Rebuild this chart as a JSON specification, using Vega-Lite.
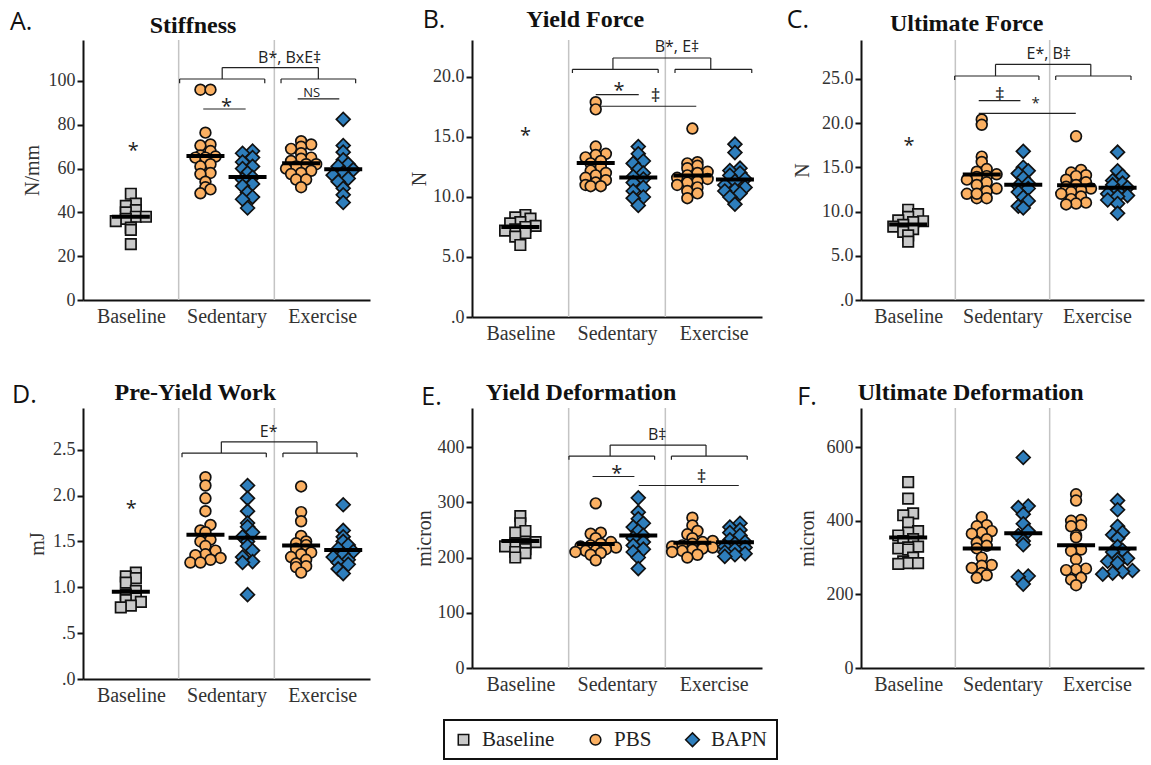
{
"$schema":"https://vega.github.io/schema/vega-lite/v6.json",
"background":"white",
"padding":{"left":10,"top":8,"right":5,"bottom":2},
"datasets":{
"sep":[{"x":1},{"x":2}],
"pts":[
{"p":"A","g":"B","t":"Baseline","v":[48.5,44,43,41,40,38,38,37,36,33,32,25.5]},
{"p":"A","g":"S","t":"PBS","v":[96,96,76.4,71,70.5,68,66,65.5,65,65,62,61,58,57.5,54,51.5,50.5,48.7]},
{"p":"A","g":"S","t":"BAPN","v":[68,67,65,63,61,60,58,56,55,53,52,49,47,46,42]},
{"p":"A","g":"E","t":"PBS","v":[72.5,71,70,69,67,65,64.5,63.5,62,62,61,60,59,58,57.5,55,55,51.5]},
{"p":"A","g":"E","t":"BAPN","v":[82.5,70.5,67.5,64,62,61,59.5,58,57,55.5,54,51,48,44.5]},
{"p":"B","g":"B","t":"Baseline","v":[8.5,8.3,8.2,7.9,7.8,7.6,7.5,7.3,7.2,7.0,6.7,6.0]},
{"p":"B","g":"S","t":"PBS","v":[17.9,17.3,14.2,13.6,13.5,13.3,13.0,12.8,12.5,12.2,12.0,11.8,11.6,11.4,11.2,11.0,10.9,10.9]},
{"p":"B","g":"S","t":"BAPN","v":[14.2,13.6,13.0,12.8,12.3,12.0,11.7,11.5,11.2,10.8,10.5,10.0,9.9,9.3]},
{"p":"B","g":"E","t":"PBS","v":[15.7,12.9,12.8,12.6,12.4,12.1,12.0,11.8,11.6,11.5,11.3,11.2,11.0,10.8,10.5,10.3,9.9]},
{"p":"B","g":"E","t":"BAPN","v":[14.4,13.7,12.4,12.2,12.0,11.8,11.5,11.3,11.0,10.8,10.6,10.5,10.3,10.0,9.4]},
{"p":"C","g":"B","t":"Baseline","v":[10.2,9.7,9.4,9.0,8.9,8.8,8.5,8.3,8.0,7.7,7.3,6.6]},
{"p":"C","g":"S","t":"PBS","v":[20.4,19.8,16.2,15.6,14.8,14.5,14.0,14.2,13.9,13.6,13.3,13.0,12.6,12.3,12.0,11.5,12.0,11.5]},
{"p":"C","g":"S","t":"BAPN","v":[16.8,15.0,14.6,14.3,13.8,13.2,12.9,12.6,12.2,11.6,11.2,10.6,10.4]},
{"p":"C","g":"E","t":"PBS","v":[18.5,14.7,14.4,14.1,14.0,13.6,13.3,13.0,12.8,12.6,12.4,12.2,12.0,11.7,11.4,11.0,10.9,10.8]},
{"p":"C","g":"E","t":"BAPN","v":[16.7,14.6,14.0,13.5,13.2,13.0,12.7,12.3,12.0,11.8,11.7,11.3,10.9,9.8]},
{"p":"D","g":"B","t":"Baseline","v":[1.16,1.12,1.10,1.05,0.96,0.92,0.88,0.86,0.84,0.80,0.78]},
{"p":"D","g":"S","t":"PBS","v":[2.20,2.11,1.97,1.83,1.68,1.62,1.60,1.52,1.50,1.45,1.40,1.36,1.35,1.32,1.30,1.27,1.27]},
{"p":"D","g":"S","t":"BAPN","v":[2.11,1.97,1.83,1.70,1.66,1.60,1.55,1.50,1.45,1.40,1.33,1.28,1.27,0.92]},
{"p":"D","g":"E","t":"PBS","v":[2.10,1.82,1.72,1.56,1.50,1.48,1.46,1.42,1.38,1.36,1.33,1.30,1.26,1.23,1.22,1.16]},
{"p":"D","g":"E","t":"BAPN","v":[1.90,1.62,1.55,1.50,1.46,1.42,1.39,1.36,1.33,1.30,1.27,1.25,1.20,1.15]},
{"p":"E","g":"B","t":"Baseline","v":[275,262,248,245,228,225,225,220,215,210,208,200]},
{"p":"E","g":"S","t":"PBS","v":[298,245,243,235,228,225,222,220,218,215,213,212,210,208,205,195]},
{"p":"E","g":"S","t":"BAPN","v":[308,282,270,262,255,248,240,235,228,222,215,210,200,180]},
{"p":"E","g":"E","t":"PBS","v":[272,258,248,242,235,230,228,225,222,220,218,216,214,212,210,205,200]},
{"p":"E","g":"E","t":"BAPN","v":[262,255,250,245,240,232,228,225,220,218,215,210,207,205,202]},
{"p":"F","g":"B","t":"Baseline","v":[505,460,420,415,395,372,368,360,350,345,330,328,325,322,300,290,285,285,283]},
{"p":"F","g":"S","t":"PBS","v":[410,388,385,372,368,365,350,340,332,325,300,280,278,272,258,252,245]},
{"p":"F","g":"S","t":"BAPN","v":[572,440,436,418,392,372,360,345,335,250,248,228]},
{"p":"F","g":"E","t":"PBS","v":[472,455,402,400,388,385,360,355,322,318,295,270,268,266,245,240,225]},
{"p":"F","g":"E","t":"BAPN","v":[455,430,385,368,362,352,330,320,315,298,295,290,285,265,262,258,255]}
],
"seg":[
{"p":"A","x":1.01,"x2":1.9,"y":100.9,"y2":100.9},{"p":"A","x":1.01,"x2":1.01,"y":99.0,"y2":100.9},{"p":"A","x":1.9,"x2":1.9,"y":99.0,"y2":100.9},
{"p":"A","x":2.07,"x2":2.85,"y":100.9,"y2":100.9},{"p":"A","x":2.07,"x2":2.07,"y":99.0,"y2":100.9},{"p":"A","x":2.85,"x2":2.85,"y":99.0,"y2":100.9},
{"p":"A","x":1.455,"x2":1.455,"y":100.9,"y2":106.1},{"p":"A","x":2.46,"x2":2.46,"y":100.9,"y2":106.1},{"p":"A","x":1.455,"x2":2.46,"y":106.1,"y2":106.1},
{"p":"A","x":1.257,"x2":1.7,"y":87.2,"y2":87.2},{"p":"A","x":2.244,"x2":2.679,"y":91.8,"y2":91.8},
{"p":"B","x":1.039,"x2":1.926,"y":20.64,"y2":20.64},{"p":"B","x":1.039,"x2":1.039,"y":20.33,"y2":20.64},{"p":"B","x":1.926,"x2":1.926,"y":20.33,"y2":20.64},
{"p":"B","x":2.1,"x2":2.894,"y":20.64,"y2":20.64},{"p":"B","x":2.1,"x2":2.1,"y":20.33,"y2":20.64},{"p":"B","x":2.894,"x2":2.894,"y":20.33,"y2":20.64},
{"p":"B","x":1.458,"x2":1.458,"y":20.64,"y2":21.58},{"p":"B","x":2.47,"x2":2.47,"y":20.64,"y2":21.58},{"p":"B","x":1.458,"x2":2.47,"y":21.58,"y2":21.58},
{"p":"B","x":1.28,"x2":1.725,"y":18.53,"y2":18.53},{"p":"B","x":1.28,"x2":2.32,"y":17.56,"y2":17.56},
{"p":"C","x":0.993,"x2":1.886,"y":25.31,"y2":25.31},{"p":"C","x":0.993,"x2":0.993,"y":24.86,"y2":25.31},{"p":"C","x":1.886,"x2":1.886,"y":24.86,"y2":25.31},
{"p":"C","x":2.064,"x2":2.862,"y":25.31,"y2":25.31},{"p":"C","x":2.064,"x2":2.064,"y":24.86,"y2":25.31},{"p":"C","x":2.862,"x2":2.862,"y":24.86,"y2":25.31},
{"p":"C","x":1.426,"x2":1.426,"y":25.31,"y2":26.63},{"p":"C","x":2.436,"x2":2.436,"y":25.31,"y2":26.63},{"p":"C","x":1.426,"x2":2.436,"y":26.63,"y2":26.63},
{"p":"C","x":1.248,"x2":1.69,"y":22.52,"y2":22.52},{"p":"C","x":1.248,"x2":2.277,"y":21.09,"y2":21.09},
{"p":"D","x":1.035,"x2":1.916,"y":2.463,"y2":2.463},{"p":"D","x":1.035,"x2":1.035,"y":2.419,"y2":2.463},{"p":"D","x":1.916,"x2":1.916,"y":2.419,"y2":2.463},
{"p":"D","x":2.09,"x2":2.864,"y":2.463,"y2":2.463},{"p":"D","x":2.09,"x2":2.09,"y":2.419,"y2":2.463},{"p":"D","x":2.864,"x2":2.864,"y":2.419,"y2":2.463},
{"p":"D","x":1.446,"x2":1.446,"y":2.463,"y2":2.586},{"p":"D","x":2.446,"x2":2.446,"y":2.463,"y2":2.586},{"p":"D","x":1.446,"x2":2.446,"y":2.586,"y2":2.586},
{"p":"E","x":1.003,"x2":1.889,"y":383.5,"y2":383.5},{"p":"E","x":1.003,"x2":1.003,"y":376.9,"y2":383.5},{"p":"E","x":1.889,"x2":1.889,"y":376.9,"y2":383.5},
{"p":"E","x":2.063,"x2":2.847,"y":383.5,"y2":383.5},{"p":"E","x":2.063,"x2":2.063,"y":376.9,"y2":383.5},{"p":"E","x":2.847,"x2":2.847,"y":376.9,"y2":383.5},
{"p":"E","x":1.429,"x2":1.429,"y":383.5,"y2":403.5},{"p":"E","x":2.421,"x2":2.421,"y":383.5,"y2":403.5},{"p":"E","x":1.429,"x2":2.421,"y":403.5,"y2":403.5},
{"p":"E","x":1.247,"x2":1.68,"y":346.6,"y2":346.6},{"p":"E","x":1.725,"x2":2.76,"y":330.3,"y2":330.3}
],
"txt":[
{"p":"A","k":"letter","x":-0.763,"y":123.3,"s":"A."},{"p":"A","k":"title","x":1.15,"y":122.1,"s":"Stiffness"},
{"p":"A","k":"stat","x":2.16,"y":108.1,"s":"B*, BxE‡"},{"p":"A","k":"star","x":1.5,"y":85.5,"s":"*"},{"p":"A","k":"ns","x":2.39,"y":92.5,"s":"NS"},{"p":"A","k":"star","x":0.526,"y":65.4,"s":"*"},
{"p":"B","k":"letter","x":-0.51,"y":24.06,"s":"B."},{"p":"B","k":"title","x":1.171,"y":24.14,"s":"Yield Force"},
{"p":"B","k":"stat","x":2.12,"y":22.06,"s":"B*, E‡"},{"p":"B","k":"star","x":1.521,"y":18.36,"s":"*"},{"p":"B","k":"dag","x":1.9,"y":17.93,"s":"‡"},{"p":"B","k":"star","x":0.553,"y":14.61,"s":"*"},
{"p":"C","k":"letter","x":-0.788,"y":30.7,"s":"C."},{"p":"C","k":"title","x":1.12,"y":30.43,"s":"Ultimate Force"},
{"p":"C","k":"stat","x":1.99,"y":27.2,"s":"E*, B‡"},{"p":"C","k":"dag","x":1.471,"y":22.53,"s":"‡"},{"p":"C","k":"sstar","x":1.851,"y":21.75,"s":"*"},{"p":"C","k":"star","x":0.51,"y":16.76,"s":"*"},
{"p":"D","k":"letter","x":-0.742,"y":3.007,"s":"D."},{"p":"D","k":"title","x":1.174,"y":3.043,"s":"Pre-Yield Work"},
{"p":"D","k":"stat","x":1.94,"y":2.642,"s":"E*"},{"p":"D","k":"star","x":0.505,"y":1.788,"s":"*"},
{"p":"E","k":"letter","x":-0.524,"y":476,"s":"E."},{"p":"E","k":"title","x":1.128,"y":485,"s":"Yield Deformation"},
{"p":"E","k":"stat","x":1.916,"y":412.7,"s":"B‡"},{"p":"E","k":"star","x":1.498,"y":340.3,"s":"*"},{"p":"E","k":"dag","x":2.376,"y":335.2,"s":"‡"},
{"p":"F","k":"letter","x":-0.675,"y":714.7,"s":"F."},{"p":"F","k":"title","x":1.163,"y":728.3,"s":"Ultimate Deformation"}
]
},
"concat":[
{"width":287,"height":260,"layer":[
{"data":{"name":"sep"},"mark":{"type":"rule","color":"#c4c4c4","strokeWidth":1.5},"encoding":{"x":{"field":"x","type":"quantitative","scale":{"domain":[0,3],"nice":false}}}},
{"data":{"name":"seg"},"transform":[{"filter":"datum.p=='A'"}],"mark":{"type":"rule","color":"#222","strokeWidth":1.2},"encoding":{"x":{"field":"x","type":"quantitative","scale":{"domain":[0,3],"nice":false}},"x2":{"field":"x2"},"y":{"field":"y","type":"quantitative","scale":{"domain":[0,118.7],"nice":false}},"y2":{"field":"y2"}}},
{"data":{"name":"pts"},"transform":[{"filter":"datum.p=='A'"},{"flatten":["v"],"as":["y"]},{"calculate":"floor(datum.y/3)","as":"bn"},{"window":[{"op":"row_number","as":"rk"},{"op":"count","as":"cnt"}],"groupby":["g","t","bn"],"sort":[{"field":"y","order":"ascending"}],"frame":[null,null]},{"calculate":"(datum.g=='B'?0.5:datum.g=='S'?1.5:2.5)+(datum.t=='PBS'?-0.22:datum.t=='BAPN'?0.22:0)+(datum.rk-(datum.cnt+1)/2)*0.105","as":"x"}],
 "mark":{"type":"point","filled":true,"opacity":1,"stroke":"#111","strokeWidth":1.7},
 "encoding":{"x":{"field":"x","type":"quantitative","scale":{"domain":[0,3],"nice":false},"axis":{"values":[0.5,1.5,2.5],"labelExpr":"datum.value==0.5?'Baseline':datum.value==1.5?'Sedentary':'Exercise'","title":null,"labelOverlap":false,"labelFont":"Liberation Serif"}},
 "y":{"field":"y","type":"quantitative","scale":{"domain":[0,118.7],"nice":false},"axis":{"values":[0,20,40,60,80,100],"title":"N/mm","titleX":-51,"titleBaseline":"middle","labelFont":"Liberation Serif","titleFont":"Liberation Serif"}},
 "color":{"field":"t","type":"nominal","scale":{"domain":["Baseline","PBS","BAPN"],"range":["#c9c9c9","#fbb062","#2e7ebc"]},"legend":null},
 "shape":{"field":"t","type":"nominal","scale":{"domain":["Baseline","PBS","BAPN"],"range":["square","circle","diamond"]},"legend":null},
 "size":{"field":"t","type":"nominal","scale":{"type":"ordinal","domain":["Baseline","PBS","BAPN"],"range":[110,115,190]},"legend":null}}},
{"data":{"name":"pts"},"transform":[{"filter":"datum.p=='A'"},{"flatten":["v"],"as":["y"]},{"aggregate":[{"op":"mean","field":"y","as":"m"}],"groupby":["g","t"]},{"calculate":"(datum.g=='B'?0.5:datum.g=='S'?1.5:2.5)+(datum.t=='PBS'?-0.22:datum.t=='BAPN'?0.22:0)","as":"x"}],
 "mark":{"type":"tick","orient":"horizontal","color":"#000","thickness":4,"size":38,"opacity":1},
 "encoding":{"x":{"field":"x","type":"quantitative","scale":{"domain":[0,3],"nice":false}},"y":{"field":"m","type":"quantitative","scale":{"domain":[0,118.7],"nice":false}}}},
{"data":{"name":"txt"},"transform":[{"filter":"datum.p=='A' && datum.k=='letter'"}],"mark":{"type":"text","font":"Open Sans","fontSize":25,"align":"left","baseline":"alphabetic","color":"#111"},"encoding":{"x":{"field":"x","type":"quantitative","scale":{"domain":[0,3],"nice":false}},"y":{"field":"y","type":"quantitative","scale":{"domain":[0,118.7],"nice":false}},"text":{"field":"s"}}},
{"data":{"name":"txt"},"transform":[{"filter":"datum.p=='A' && datum.k=='title'"}],"mark":{"type":"text","font":"Liberation Serif","fontWeight":"bold","fontSize":24,"align":"center","baseline":"alphabetic","color":"#111"},"encoding":{"x":{"field":"x","type":"quantitative","scale":{"domain":[0,3],"nice":false}},"y":{"field":"y","type":"quantitative","scale":{"domain":[0,118.7],"nice":false}},"text":{"field":"s"}}},
{"data":{"name":"txt"},"transform":[{"filter":"datum.p=='A' && datum.k=='stat'"}],"mark":{"type":"text","font":"Open Sans","fontSize":16,"align":"center","baseline":"alphabetic","color":"#222"},"encoding":{"x":{"field":"x","type":"quantitative","scale":{"domain":[0,3],"nice":false}},"y":{"field":"y","type":"quantitative","scale":{"domain":[0,118.7],"nice":false}},"text":{"field":"s"}}},
{"data":{"name":"txt"},"transform":[{"filter":"datum.p=='A' && datum.k=='ns'"}],"mark":{"type":"text","font":"Open Sans","fontSize":13,"align":"center","baseline":"alphabetic","color":"#222"},"encoding":{"x":{"field":"x","type":"quantitative","scale":{"domain":[0,3],"nice":false}},"y":{"field":"y","type":"quantitative","scale":{"domain":[0,118.7],"nice":false}},"text":{"field":"s"}}},
{"data":{"name":"txt"},"transform":[{"filter":"datum.p=='A' && datum.k=='star'"}],"mark":{"type":"text","font":"Open Sans","fontSize":20,"align":"center","baseline":"alphabetic","color":"#222"},"encoding":{"x":{"field":"x","type":"quantitative","scale":{"domain":[0,3],"nice":false}},"y":{"field":"y","type":"quantitative","scale":{"domain":[0,118.7],"nice":false}},"text":{"field":"s"}}}
]},
{"width":290,"height":277,"layer":[
{"data":{"name":"sep"},"mark":{"type":"rule","color":"#c4c4c4","strokeWidth":1.5},"encoding":{"x":{"field":"x","type":"quantitative","scale":{"domain":[0,3],"nice":false}}}},
{"data":{"name":"seg"},"transform":[{"filter":"datum.p=='B'"}],"mark":{"type":"rule","color":"#222","strokeWidth":1.2},"encoding":{"x":{"field":"x","type":"quantitative","scale":{"domain":[0,3],"nice":false}},"x2":{"field":"x2"},"y":{"field":"y","type":"quantitative","scale":{"domain":[0,23.08],"nice":false}},"y2":{"field":"y2"}}},
{"data":{"name":"pts"},"transform":[{"filter":"datum.p=='B'"},{"flatten":["v"],"as":["y"]},{"calculate":"floor(datum.y/0.55)","as":"bn"},{"window":[{"op":"row_number","as":"rk"},{"op":"count","as":"cnt"}],"groupby":["g","t","bn"],"sort":[{"field":"y","order":"ascending"}],"frame":[null,null]},{"calculate":"(datum.g=='B'?0.5:datum.g=='S'?1.5:2.5)+(datum.t=='PBS'?-0.22:datum.t=='BAPN'?0.22:0)+(datum.rk-(datum.cnt+1)/2)*0.105","as":"x"}],
 "mark":{"type":"point","filled":true,"opacity":1,"stroke":"#111","strokeWidth":1.7},
 "encoding":{"x":{"field":"x","type":"quantitative","scale":{"domain":[0,3],"nice":false},"axis":{"values":[0.5,1.5,2.5],"labelExpr":"datum.value==0.5?'Baseline':datum.value==1.5?'Sedentary':'Exercise'","title":null,"labelOverlap":false,"labelFont":"Liberation Serif"}},
 "y":{"field":"y","type":"quantitative","scale":{"domain":[0,23.08],"nice":false},"axis":{"values":[0,5,10,15,20],"labelExpr":"datum.value==0?'.0':format(datum.value,'.1f')","title":"N","titleX":-53,"titleBaseline":"middle","labelFont":"Liberation Serif","titleFont":"Liberation Serif"}},
 "color":{"field":"t","type":"nominal","scale":{"domain":["Baseline","PBS","BAPN"],"range":["#c9c9c9","#fbb062","#2e7ebc"]},"legend":null},
 "shape":{"field":"t","type":"nominal","scale":{"domain":["Baseline","PBS","BAPN"],"range":["square","circle","diamond"]},"legend":null},
 "size":{"field":"t","type":"nominal","scale":{"type":"ordinal","domain":["Baseline","PBS","BAPN"],"range":[110,115,190]},"legend":null}}},
{"data":{"name":"pts"},"transform":[{"filter":"datum.p=='B'"},{"flatten":["v"],"as":["y"]},{"aggregate":[{"op":"mean","field":"y","as":"m"}],"groupby":["g","t"]},{"calculate":"(datum.g=='B'?0.5:datum.g=='S'?1.5:2.5)+(datum.t=='PBS'?-0.22:datum.t=='BAPN'?0.22:0)","as":"x"}],
 "mark":{"type":"tick","orient":"horizontal","color":"#000","thickness":4,"size":38,"opacity":1},
 "encoding":{"x":{"field":"x","type":"quantitative","scale":{"domain":[0,3],"nice":false}},"y":{"field":"m","type":"quantitative","scale":{"domain":[0,23.08],"nice":false}}}},
{"data":{"name":"txt"},"transform":[{"filter":"datum.p=='B' && datum.k=='letter'"}],"mark":{"type":"text","font":"Open Sans","fontSize":25,"align":"left","baseline":"alphabetic","color":"#111"},"encoding":{"x":{"field":"x","type":"quantitative","scale":{"domain":[0,3],"nice":false}},"y":{"field":"y","type":"quantitative","scale":{"domain":[0,23.08],"nice":false}},"text":{"field":"s"}}},
{"data":{"name":"txt"},"transform":[{"filter":"datum.p=='B' && datum.k=='title'"}],"mark":{"type":"text","font":"Liberation Serif","fontWeight":"bold","fontSize":24,"align":"center","baseline":"alphabetic","color":"#111"},"encoding":{"x":{"field":"x","type":"quantitative","scale":{"domain":[0,3],"nice":false}},"y":{"field":"y","type":"quantitative","scale":{"domain":[0,23.08],"nice":false}},"text":{"field":"s"}}},
{"data":{"name":"txt"},"transform":[{"filter":"datum.p=='B' && datum.k=='stat'"}],"mark":{"type":"text","font":"Open Sans","fontSize":16,"align":"center","baseline":"alphabetic","color":"#222"},"encoding":{"x":{"field":"x","type":"quantitative","scale":{"domain":[0,3],"nice":false}},"y":{"field":"y","type":"quantitative","scale":{"domain":[0,23.08],"nice":false}},"text":{"field":"s"}}},
{"data":{"name":"txt"},"transform":[{"filter":"datum.p=='B' && datum.k=='star'"}],"mark":{"type":"text","font":"Open Sans","fontSize":20,"align":"center","baseline":"alphabetic","color":"#222"},"encoding":{"x":{"field":"x","type":"quantitative","scale":{"domain":[0,3],"nice":false}},"y":{"field":"y","type":"quantitative","scale":{"domain":[0,23.08],"nice":false}},"text":{"field":"s"}}},
{"data":{"name":"txt"},"transform":[{"filter":"datum.p=='B' && datum.k=='dag'"}],"mark":{"type":"text","font":"Open Sans","fontSize":19,"align":"center","baseline":"alphabetic","color":"#222"},"encoding":{"x":{"field":"x","type":"quantitative","scale":{"domain":[0,3],"nice":false}},"y":{"field":"y","type":"quantitative","scale":{"domain":[0,23.08],"nice":false}},"text":{"field":"s"}}}
]},
{"width":283,"height":260,"layer":[
{"data":{"name":"sep"},"mark":{"type":"rule","color":"#c4c4c4","strokeWidth":1.5},"encoding":{"x":{"field":"x","type":"quantitative","scale":{"domain":[0,3],"nice":false}}}},
{"data":{"name":"seg"},"transform":[{"filter":"datum.p=='C'"}],"mark":{"type":"rule","color":"#222","strokeWidth":1.2},"encoding":{"x":{"field":"x","type":"quantitative","scale":{"domain":[0,3],"nice":false}},"x2":{"field":"x2"},"y":{"field":"y","type":"quantitative","scale":{"domain":[0,29.38],"nice":false}},"y2":{"field":"y2"}}},
{"data":{"name":"pts"},"transform":[{"filter":"datum.p=='C'"},{"flatten":["v"],"as":["y"]},{"calculate":"floor(datum.y/0.75)","as":"bn"},{"window":[{"op":"row_number","as":"rk"},{"op":"count","as":"cnt"}],"groupby":["g","t","bn"],"sort":[{"field":"y","order":"ascending"}],"frame":[null,null]},{"calculate":"(datum.g=='B'?0.5:datum.g=='S'?1.5:2.5)+(datum.t=='PBS'?-0.22:datum.t=='BAPN'?0.22:0)+(datum.rk-(datum.cnt+1)/2)*0.105","as":"x"}],
 "mark":{"type":"point","filled":true,"opacity":1,"stroke":"#111","strokeWidth":1.7},
 "encoding":{"x":{"field":"x","type":"quantitative","scale":{"domain":[0,3],"nice":false},"axis":{"values":[0.5,1.5,2.5],"labelExpr":"datum.value==0.5?'Baseline':datum.value==1.5?'Sedentary':'Exercise'","title":null,"labelOverlap":false,"labelFont":"Liberation Serif"}},
 "y":{"field":"y","type":"quantitative","scale":{"domain":[0,29.38],"nice":false},"axis":{"values":[0,5,10,15,20,25],"labelExpr":"datum.value==0?'.0':format(datum.value,'.1f')","title":"N","titleX":-59,"titleBaseline":"middle","labelFont":"Liberation Serif","titleFont":"Liberation Serif"}},
 "color":{"field":"t","type":"nominal","scale":{"domain":["Baseline","PBS","BAPN"],"range":["#c9c9c9","#fbb062","#2e7ebc"]},"legend":null},
 "shape":{"field":"t","type":"nominal","scale":{"domain":["Baseline","PBS","BAPN"],"range":["square","circle","diamond"]},"legend":null},
 "size":{"field":"t","type":"nominal","scale":{"type":"ordinal","domain":["Baseline","PBS","BAPN"],"range":[110,115,190]},"legend":null}}},
{"data":{"name":"pts"},"transform":[{"filter":"datum.p=='C'"},{"flatten":["v"],"as":["y"]},{"aggregate":[{"op":"mean","field":"y","as":"m"}],"groupby":["g","t"]},{"calculate":"(datum.g=='B'?0.5:datum.g=='S'?1.5:2.5)+(datum.t=='PBS'?-0.22:datum.t=='BAPN'?0.22:0)","as":"x"}],
 "mark":{"type":"tick","orient":"horizontal","color":"#000","thickness":4,"size":38,"opacity":1},
 "encoding":{"x":{"field":"x","type":"quantitative","scale":{"domain":[0,3],"nice":false}},"y":{"field":"m","type":"quantitative","scale":{"domain":[0,29.38],"nice":false}}}},
{"data":{"name":"txt"},"transform":[{"filter":"datum.p=='C' && datum.k=='letter'"}],"mark":{"type":"text","font":"Open Sans","fontSize":25,"align":"left","baseline":"alphabetic","color":"#111"},"encoding":{"x":{"field":"x","type":"quantitative","scale":{"domain":[0,3],"nice":false}},"y":{"field":"y","type":"quantitative","scale":{"domain":[0,29.38],"nice":false}},"text":{"field":"s"}}},
{"data":{"name":"txt"},"transform":[{"filter":"datum.p=='C' && datum.k=='title'"}],"mark":{"type":"text","font":"Liberation Serif","fontWeight":"bold","fontSize":24,"align":"center","baseline":"alphabetic","color":"#111"},"encoding":{"x":{"field":"x","type":"quantitative","scale":{"domain":[0,3],"nice":false}},"y":{"field":"y","type":"quantitative","scale":{"domain":[0,29.38],"nice":false}},"text":{"field":"s"}}},
{"data":{"name":"txt"},"transform":[{"filter":"datum.p=='C' && datum.k=='stat'"}],"mark":{"type":"text","font":"Open Sans","fontSize":16,"align":"center","baseline":"alphabetic","color":"#222"},"encoding":{"x":{"field":"x","type":"quantitative","scale":{"domain":[0,3],"nice":false}},"y":{"field":"y","type":"quantitative","scale":{"domain":[0,29.38],"nice":false}},"text":{"field":"s"}}},
{"data":{"name":"txt"},"transform":[{"filter":"datum.p=='C' && datum.k=='star'"}],"mark":{"type":"text","font":"Open Sans","fontSize":20,"align":"center","baseline":"alphabetic","color":"#222"},"encoding":{"x":{"field":"x","type":"quantitative","scale":{"domain":[0,3],"nice":false}},"y":{"field":"y","type":"quantitative","scale":{"domain":[0,29.38],"nice":false}},"text":{"field":"s"}}},
{"data":{"name":"txt"},"transform":[{"filter":"datum.p=='C' && datum.k=='sstar'"}],"mark":{"type":"text","font":"Open Sans","fontSize":15,"align":"center","baseline":"alphabetic","color":"#222"},"encoding":{"x":{"field":"x","type":"quantitative","scale":{"domain":[0,3],"nice":false}},"y":{"field":"y","type":"quantitative","scale":{"domain":[0,29.38],"nice":false}},"text":{"field":"s"}}},
{"data":{"name":"txt"},"transform":[{"filter":"datum.p=='C' && datum.k=='dag'"}],"mark":{"type":"text","font":"Open Sans","fontSize":19,"align":"center","baseline":"alphabetic","color":"#222"},"encoding":{"x":{"field":"x","type":"quantitative","scale":{"domain":[0,3],"nice":false}},"y":{"field":"y","type":"quantitative","scale":{"domain":[0,29.38],"nice":false}},"text":{"field":"s"}}}
]},
{"width":287,"height":271,"layer":[
{"data":{"name":"sep"},"mark":{"type":"rule","color":"#c4c4c4","strokeWidth":1.5},"encoding":{"x":{"field":"x","type":"quantitative","scale":{"domain":[0,3],"nice":false}}}},
{"data":{"name":"seg"},"transform":[{"filter":"datum.p=='D'"}],"mark":{"type":"rule","color":"#222","strokeWidth":1.2},"encoding":{"x":{"field":"x","type":"quantitative","scale":{"domain":[0,3],"nice":false}},"x2":{"field":"x2"},"y":{"field":"y","type":"quantitative","scale":{"domain":[0,2.955],"nice":false}},"y2":{"field":"y2"}}},
{"data":{"name":"pts"},"transform":[{"filter":"datum.p=='D'"},{"flatten":["v"],"as":["y"]},{"calculate":"floor(datum.y/0.07)","as":"bn"},{"window":[{"op":"row_number","as":"rk"},{"op":"count","as":"cnt"}],"groupby":["g","t","bn"],"sort":[{"field":"y","order":"ascending"}],"frame":[null,null]},{"calculate":"(datum.g=='B'?0.5:datum.g=='S'?1.5:2.5)+(datum.t=='PBS'?-0.22:datum.t=='BAPN'?0.22:0)+(datum.rk-(datum.cnt+1)/2)*0.105","as":"x"}],
 "mark":{"type":"point","filled":true,"opacity":1,"stroke":"#111","strokeWidth":1.7},
 "encoding":{"x":{"field":"x","type":"quantitative","scale":{"domain":[0,3],"nice":false},"axis":{"values":[0.5,1.5,2.5],"labelExpr":"datum.value==0.5?'Baseline':datum.value==1.5?'Sedentary':'Exercise'","title":null,"labelOverlap":false,"labelFont":"Liberation Serif"}},
 "y":{"field":"y","type":"quantitative","scale":{"domain":[0,2.955],"nice":false},"axis":{"values":[0,0.5,1,1.5,2,2.5],"labelExpr":"datum.value==0?'.0':datum.value==0.5?'.5':format(datum.value,'.1f')","title":"mJ","titleX":-46,"titleBaseline":"middle","labelFont":"Liberation Serif","titleFont":"Liberation Serif"}},
 "color":{"field":"t","type":"nominal","scale":{"domain":["Baseline","PBS","BAPN"],"range":["#c9c9c9","#fbb062","#2e7ebc"]},"legend":null},
 "shape":{"field":"t","type":"nominal","scale":{"domain":["Baseline","PBS","BAPN"],"range":["square","circle","diamond"]},"legend":null},
 "size":{"field":"t","type":"nominal","scale":{"type":"ordinal","domain":["Baseline","PBS","BAPN"],"range":[110,115,190]},"legend":null}}},
{"data":{"name":"pts"},"transform":[{"filter":"datum.p=='D'"},{"flatten":["v"],"as":["y"]},{"aggregate":[{"op":"mean","field":"y","as":"m"}],"groupby":["g","t"]},{"calculate":"(datum.g=='B'?0.5:datum.g=='S'?1.5:2.5)+(datum.t=='PBS'?-0.22:datum.t=='BAPN'?0.22:0)","as":"x"}],
 "mark":{"type":"tick","orient":"horizontal","color":"#000","thickness":4,"size":38,"opacity":1},
 "encoding":{"x":{"field":"x","type":"quantitative","scale":{"domain":[0,3],"nice":false}},"y":{"field":"m","type":"quantitative","scale":{"domain":[0,2.955],"nice":false}}}},
{"data":{"name":"txt"},"transform":[{"filter":"datum.p=='D' && datum.k=='letter'"}],"mark":{"type":"text","font":"Open Sans","fontSize":25,"align":"left","baseline":"alphabetic","color":"#111"},"encoding":{"x":{"field":"x","type":"quantitative","scale":{"domain":[0,3],"nice":false}},"y":{"field":"y","type":"quantitative","scale":{"domain":[0,2.955],"nice":false}},"text":{"field":"s"}}},
{"data":{"name":"txt"},"transform":[{"filter":"datum.p=='D' && datum.k=='title'"}],"mark":{"type":"text","font":"Liberation Serif","fontWeight":"bold","fontSize":24,"align":"center","baseline":"alphabetic","color":"#111"},"encoding":{"x":{"field":"x","type":"quantitative","scale":{"domain":[0,3],"nice":false}},"y":{"field":"y","type":"quantitative","scale":{"domain":[0,2.955],"nice":false}},"text":{"field":"s"}}},
{"data":{"name":"txt"},"transform":[{"filter":"datum.p=='D' && datum.k=='stat'"}],"mark":{"type":"text","font":"Open Sans","fontSize":16,"align":"center","baseline":"alphabetic","color":"#222"},"encoding":{"x":{"field":"x","type":"quantitative","scale":{"domain":[0,3],"nice":false}},"y":{"field":"y","type":"quantitative","scale":{"domain":[0,2.955],"nice":false}},"text":{"field":"s"}}},
{"data":{"name":"txt"},"transform":[{"filter":"datum.p=='D' && datum.k=='star'"}],"mark":{"type":"text","font":"Open Sans","fontSize":20,"align":"center","baseline":"alphabetic","color":"#222"},"encoding":{"x":{"field":"x","type":"quantitative","scale":{"domain":[0,3],"nice":false}},"y":{"field":"y","type":"quantitative","scale":{"domain":[0,2.955],"nice":false}},"text":{"field":"s"}}}
]},
{"width":290,"height":260,"layer":[
{"data":{"name":"sep"},"mark":{"type":"rule","color":"#c4c4c4","strokeWidth":1.5},"encoding":{"x":{"field":"x","type":"quantitative","scale":{"domain":[0,3],"nice":false}}}},
{"data":{"name":"seg"},"transform":[{"filter":"datum.p=='E'"}],"mark":{"type":"rule","color":"#222","strokeWidth":1.2},"encoding":{"x":{"field":"x","type":"quantitative","scale":{"domain":[0,3],"nice":false}},"x2":{"field":"x2"},"y":{"field":"y","type":"quantitative","scale":{"domain":[0,470.6],"nice":false}},"y2":{"field":"y2"}}},
{"data":{"name":"pts"},"transform":[{"filter":"datum.p=='E'"},{"flatten":["v"],"as":["y"]},{"calculate":"floor(datum.y/11)","as":"bn"},{"window":[{"op":"row_number","as":"rk"},{"op":"count","as":"cnt"}],"groupby":["g","t","bn"],"sort":[{"field":"y","order":"ascending"}],"frame":[null,null]},{"calculate":"(datum.g=='B'?0.5:datum.g=='S'?1.5:2.5)+(datum.t=='PBS'?-0.22:datum.t=='BAPN'?0.22:0)+(datum.rk-(datum.cnt+1)/2)*0.105","as":"x"}],
 "mark":{"type":"point","filled":true,"opacity":1,"stroke":"#111","strokeWidth":1.7},
 "encoding":{"x":{"field":"x","type":"quantitative","scale":{"domain":[0,3],"nice":false},"axis":{"values":[0.5,1.5,2.5],"labelExpr":"datum.value==0.5?'Baseline':datum.value==1.5?'Sedentary':'Exercise'","title":null,"labelOverlap":false,"labelFont":"Liberation Serif"}},
 "y":{"field":"y","type":"quantitative","scale":{"domain":[0,470.6],"nice":false},"axis":{"values":[0,100,200,300,400],"title":"micron","titleX":-48,"titleBaseline":"middle","labelFont":"Liberation Serif","titleFont":"Liberation Serif"}},
 "color":{"field":"t","type":"nominal","scale":{"domain":["Baseline","PBS","BAPN"],"range":["#c9c9c9","#fbb062","#2e7ebc"]},"legend":{"orient":"none","legendX":-28,"legendY":312,"direction":"horizontal","title":null,"symbolSize":150,"symbolStrokeColor":"#111","symbolStrokeWidth":1.5,"symbolOpacity":1,"labelFont":"Liberation Serif","labelFontSize":21,"labelColor":"#222","padding":9,"columnPadding":30,"labelOffset":8,"strokeColor":"#111","encode":{"symbols":{"update":{"stroke":{"value":"#111"},"strokeWidth":{"value":1.5}}},"labels":{"update":{"font":{"value":"Liberation Serif"}}}}}},
 "shape":{"field":"t","type":"nominal","scale":{"domain":["Baseline","PBS","BAPN"],"range":["square","circle","diamond"]},"legend":{"orient":"none","legendX":-28,"legendY":312,"direction":"horizontal","title":null,"symbolSize":150,"symbolStrokeColor":"#111","symbolStrokeWidth":1.5,"symbolOpacity":1,"labelFont":"Liberation Serif","labelFontSize":21,"labelColor":"#222","padding":9,"columnPadding":30,"labelOffset":8,"strokeColor":"#111","encode":{"symbols":{"update":{"stroke":{"value":"#111"},"strokeWidth":{"value":1.5}}},"labels":{"update":{"font":{"value":"Liberation Serif"}}}}}},
 "size":{"field":"t","type":"nominal","scale":{"type":"ordinal","domain":["Baseline","PBS","BAPN"],"range":[110,115,190]},"legend":null}}},
{"data":{"name":"pts"},"transform":[{"filter":"datum.p=='E'"},{"flatten":["v"],"as":["y"]},{"aggregate":[{"op":"mean","field":"y","as":"m"}],"groupby":["g","t"]},{"calculate":"(datum.g=='B'?0.5:datum.g=='S'?1.5:2.5)+(datum.t=='PBS'?-0.22:datum.t=='BAPN'?0.22:0)","as":"x"}],
 "mark":{"type":"tick","orient":"horizontal","color":"#000","thickness":4,"size":38,"opacity":1},
 "encoding":{"x":{"field":"x","type":"quantitative","scale":{"domain":[0,3],"nice":false}},"y":{"field":"m","type":"quantitative","scale":{"domain":[0,470.6],"nice":false}}}},
{"data":{"name":"txt"},"transform":[{"filter":"datum.p=='E' && datum.k=='letter'"}],"mark":{"type":"text","font":"Open Sans","fontSize":25,"align":"left","baseline":"alphabetic","color":"#111"},"encoding":{"x":{"field":"x","type":"quantitative","scale":{"domain":[0,3],"nice":false}},"y":{"field":"y","type":"quantitative","scale":{"domain":[0,470.6],"nice":false}},"text":{"field":"s"}}},
{"data":{"name":"txt"},"transform":[{"filter":"datum.p=='E' && datum.k=='title'"}],"mark":{"type":"text","font":"Liberation Serif","fontWeight":"bold","fontSize":24,"align":"center","baseline":"alphabetic","color":"#111"},"encoding":{"x":{"field":"x","type":"quantitative","scale":{"domain":[0,3],"nice":false}},"y":{"field":"y","type":"quantitative","scale":{"domain":[0,470.6],"nice":false}},"text":{"field":"s"}}},
{"data":{"name":"txt"},"transform":[{"filter":"datum.p=='E' && datum.k=='stat'"}],"mark":{"type":"text","font":"Open Sans","fontSize":16,"align":"center","baseline":"alphabetic","color":"#222"},"encoding":{"x":{"field":"x","type":"quantitative","scale":{"domain":[0,3],"nice":false}},"y":{"field":"y","type":"quantitative","scale":{"domain":[0,470.6],"nice":false}},"text":{"field":"s"}}},
{"data":{"name":"txt"},"transform":[{"filter":"datum.p=='E' && datum.k=='star'"}],"mark":{"type":"text","font":"Open Sans","fontSize":20,"align":"center","baseline":"alphabetic","color":"#222"},"encoding":{"x":{"field":"x","type":"quantitative","scale":{"domain":[0,3],"nice":false}},"y":{"field":"y","type":"quantitative","scale":{"domain":[0,470.6],"nice":false}},"text":{"field":"s"}}},
{"data":{"name":"txt"},"transform":[{"filter":"datum.p=='E' && datum.k=='dag'"}],"mark":{"type":"text","font":"Open Sans","fontSize":19,"align":"center","baseline":"alphabetic","color":"#222"},"encoding":{"x":{"field":"x","type":"quantitative","scale":{"domain":[0,3],"nice":false}},"y":{"field":"y","type":"quantitative","scale":{"domain":[0,470.6],"nice":false}},"text":{"field":"s"}}}
]},
{"width":283,"height":260,"layer":[
{"data":{"name":"sep"},"mark":{"type":"rule","color":"#c4c4c4","strokeWidth":1.5},"encoding":{"x":{"field":"x","type":"quantitative","scale":{"domain":[0,3],"nice":false}}}},
{"data":{"name":"pts"},"transform":[{"filter":"datum.p=='F'"},{"flatten":["v"],"as":["y"]},{"calculate":"floor(datum.y/17)","as":"bn"},{"window":[{"op":"row_number","as":"rk"},{"op":"count","as":"cnt"}],"groupby":["g","t","bn"],"sort":[{"field":"y","order":"ascending"}],"frame":[null,null]},{"calculate":"(datum.g=='B'?0.5:datum.g=='S'?1.5:2.5)+(datum.t=='PBS'?-0.22:datum.t=='BAPN'?0.22:0)+(datum.rk-(datum.cnt+1)/2)*0.105","as":"x"}],
 "mark":{"type":"point","filled":true,"opacity":1,"stroke":"#111","strokeWidth":1.7},
 "encoding":{"x":{"field":"x","type":"quantitative","scale":{"domain":[0,3],"nice":false},"axis":{"values":[0.5,1.5,2.5],"labelExpr":"datum.value==0.5?'Baseline':datum.value==1.5?'Sedentary':'Exercise'","title":null,"labelOverlap":false,"labelFont":"Liberation Serif"}},
 "y":{"field":"y","type":"quantitative","scale":{"domain":[0,706.5],"nice":false},"axis":{"values":[0,200,400,600],"title":"micron","titleX":-54,"titleBaseline":"middle","labelFont":"Liberation Serif","titleFont":"Liberation Serif"}},
 "color":{"field":"t","type":"nominal","scale":{"domain":["Baseline","PBS","BAPN"],"range":["#c9c9c9","#fbb062","#2e7ebc"]},"legend":null},
 "shape":{"field":"t","type":"nominal","scale":{"domain":["Baseline","PBS","BAPN"],"range":["square","circle","diamond"]},"legend":null},
 "size":{"field":"t","type":"nominal","scale":{"type":"ordinal","domain":["Baseline","PBS","BAPN"],"range":[110,115,190]},"legend":null}}},
{"data":{"name":"pts"},"transform":[{"filter":"datum.p=='F'"},{"flatten":["v"],"as":["y"]},{"aggregate":[{"op":"mean","field":"y","as":"m"}],"groupby":["g","t"]},{"calculate":"(datum.g=='B'?0.5:datum.g=='S'?1.5:2.5)+(datum.t=='PBS'?-0.22:datum.t=='BAPN'?0.22:0)","as":"x"}],
 "mark":{"type":"tick","orient":"horizontal","color":"#000","thickness":4,"size":38,"opacity":1},
 "encoding":{"x":{"field":"x","type":"quantitative","scale":{"domain":[0,3],"nice":false}},"y":{"field":"m","type":"quantitative","scale":{"domain":[0,706.5],"nice":false}}}},
{"data":{"name":"txt"},"transform":[{"filter":"datum.p=='F' && datum.k=='letter'"}],"mark":{"type":"text","font":"Open Sans","fontSize":25,"align":"left","baseline":"alphabetic","color":"#111"},"encoding":{"x":{"field":"x","type":"quantitative","scale":{"domain":[0,3],"nice":false}},"y":{"field":"y","type":"quantitative","scale":{"domain":[0,706.5],"nice":false}},"text":{"field":"s"}}},
{"data":{"name":"txt"},"transform":[{"filter":"datum.p=='F' && datum.k=='title'"}],"mark":{"type":"text","font":"Liberation Serif","fontWeight":"bold","fontSize":24,"align":"center","baseline":"alphabetic","color":"#111"},"encoding":{"x":{"field":"x","type":"quantitative","scale":{"domain":[0,3],"nice":false}},"y":{"field":"y","type":"quantitative","scale":{"domain":[0,706.5],"nice":false}},"text":{"field":"s"}}}
]}
],
"columns":3,
"spacing":{"row":91,"column":99},
"bounds":"flush",
"align":"all",
"resolve":{"scale":{"color":"independent","shape":"independent","size":"independent"},"legend":{"color":"independent","shape":"independent"}},
"config":{
"font":"Liberation Serif",
"view":{"stroke":null},
"axis":{"domainColor":"#111","domainWidth":2,"tickColor":"#111","tickWidth":2,"tickSize":6,"labelFont":"Liberation Serif","labelFontSize":18,"labelColor":"#333","titleFont":"Liberation Serif","titleFontSize":20,"titleFontWeight":"normal","titleColor":"#333","grid":false,"labelPadding":2},
"axisX":{"ticks":false,"tickSize":0,"labelFontSize":20,"labelPadding":6},
"legend":{"strokeWidth":2,"labelFont":"Liberation Serif"}
}
}
